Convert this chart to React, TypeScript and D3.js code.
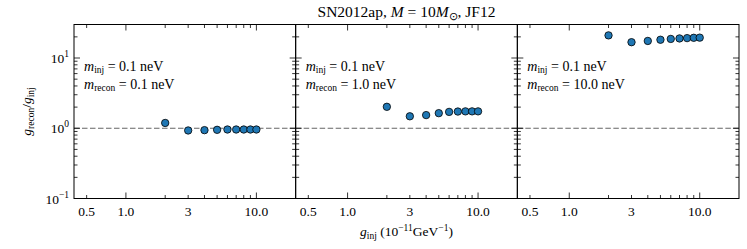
import { useEffect, useRef } from "react"
import * as d3 from "d3"

// injected coupling g_inj (10^-11 GeV^-1)
const gInj = [2, 3, 4, 5, 6, 7, 8, 9, 10]

// reconstructed / injected ratio, one array per panel
const ratioRecon01 = [1.19, 0.93, 0.94, 0.95, 0.96, 0.96, 0.96, 0.96, 0.96]
const ratioRecon10 = [2.02, 1.48, 1.54, 1.64, 1.71, 1.73, 1.74, 1.74, 1.74]
const ratioRecon100 = [21.0, 16.8, 17.5, 18.2, 18.7, 19.0, 19.2, 19.4, 19.5]

const mInj = ["0.1", "0.1", "0.1"]
const mRecon = ["0.1", "1.0", "10.0"]

const xTickValues = [0.5, 1.0, 3, 10.0]
const xTickLabels = ["0.5", "1.0", "3", "10.0"]
const yTickExps = [-1, 0, 1]

export default function App() {
    const ref = useRef<SVGSVGElement>(null)

    useEffect(() => {
        const W = 747
        const H = 249
        const margin = { top: 24.5, left: 74, right: 8, bottom: 50.5 }
        const panels = [ratioRecon01, ratioRecon10, ratioRecon100]
        const panelW = (W - margin.left - margin.right) / panels.length
        const innerH = H - margin.top - margin.bottom
        const font = "Liberation Serif, Times New Roman, serif"

        const svg = d3.select(ref.current)
        svg.selectAll("*").remove()
        svg.attr("width", W).attr("height", H).style("font-family", font)

        const scX = d3.scaleLog().domain([0.4, 20]).range([0, panelW])
        const scY = d3.scaleLog().domain([0.1, 30]).range([innerH, 0])

        const xMinor = [0.5, 2, 3, 4, 5, 6, 7, 8, 9]
        const xMajor = [1, 10]
        const yMinor: number[] = []
        for (const d of [0.1, 1, 10]) for (let k = 2; k <= 9; k++) if (d * k < 30) yMinor.push(d * k)
        const yMajor = yTickExps.map(e => Math.pow(10, e))

        const majLen = 6
        const minLen = 3.5

        panels.forEach((vals, i) => {
            const g = svg.append("g")
                .attr("transform", `translate(${margin.left + i * panelW}, ${margin.top})`)

            // reference line at ratio 1
            g.append("line")
                .attr("x1", 0).attr("x2", panelW)
                .attr("y1", scY(1)).attr("y2", scY(1))
                .attr("stroke", "#666").attr("stroke-width", 1.1)
                .attr("stroke-dasharray", "5.5,2.5")

            // ticks, inward on all four sides
            const ticks = g.append("g").attr("stroke", "black").attr("stroke-width", 0.8)
            const xt = (v: number, len: number) => {
                ticks.append("line").attr("x1", scX(v)).attr("x2", scX(v)).attr("y1", innerH).attr("y2", innerH - len)
                ticks.append("line").attr("x1", scX(v)).attr("x2", scX(v)).attr("y1", 0).attr("y2", len)
            }
            const yt = (v: number, len: number) => {
                ticks.append("line").attr("x1", 0).attr("x2", len).attr("y1", scY(v)).attr("y2", scY(v))
                ticks.append("line").attr("x1", panelW).attr("x2", panelW - len).attr("y1", scY(v)).attr("y2", scY(v))
            }
            xMinor.forEach(v => xt(v, minLen))
            xMajor.forEach(v => xt(v, majLen))
            yMinor.forEach(v => yt(v, minLen))
            yMajor.forEach(v => yt(v, majLen))

            // frame
            g.append("rect")
                .attr("width", panelW).attr("height", innerH)
                .attr("fill", "none").attr("stroke", "black").attr("stroke-width", 1)

            // x tick labels
            g.selectAll(".xl").data(xTickValues).join("text")
                .attr("x", d => scX(d)).attr("y", innerH + 17)
                .attr("text-anchor", "middle").attr("font-size", 13.5)
                .text((d, j) => xTickLabels[j])

            // points
            g.selectAll(".pt").data(vals).join("circle")
                .attr("cx", (d, j) => scX(gInj[j]))
                .attr("cy", d => scY(d))
                .attr("r", 3.7)
                .attr("fill", "#1f77b4")
                .attr("stroke", "black").attr("stroke-width", 0.8)

            // annotation
            const ann = g.append("g").attr("font-size", 14)
            const line = (y: number, sub: string, val: string) => {
                const t = ann.append("text").attr("x", 10).attr("y", y)
                t.append("tspan").attr("font-style", "italic").text("m")
                t.append("tspan").attr("font-size", 9.5).attr("dy", 2.5).text(sub)
                t.append("tspan").attr("dy", -2.5).text(` = ${val} neV`)
            }
            line(46, "inj", mInj[i])
            line(64, "recon", mRecon[i])

            // y tick labels only on first panel
            if (i === 0) {
                yTickExps.forEach(e => {
                    const t = g.append("text")
                        .attr("x", -5).attr("y", scY(Math.pow(10, e)) + 5)
                        .attr("text-anchor", "end").attr("font-size", 13.5)
                    t.append("tspan").text("10")
                    t.append("tspan").attr("font-size", 9.5).attr("dy", -6).text(e < 0 ? `\u2212${-e}` : `${e}`)
                })
            }
        })

        const cx = margin.left + (W - margin.left - margin.right) / 2

        // title
        const title = svg.append("text").attr("x", cx).attr("y", 17)
            .attr("text-anchor", "middle").attr("font-size", 15.5)
        title.append("tspan").text("SN2012ap, ")
        title.append("tspan").attr("font-style", "italic").text("M")
        title.append("tspan").text(" = 10")
        title.append("tspan").attr("font-style", "italic").text("M")
        title.append("tspan").attr("font-size", 10.5).attr("dy", 3).text("\u2299")
        title.append("tspan").attr("dy", -3).text(", JF12")

        // x label
        const xl = svg.append("text").attr("x", cx).attr("y", 236)
            .attr("text-anchor", "middle").attr("font-size", 13.5)
        xl.append("tspan").attr("font-style", "italic").text("g")
        xl.append("tspan").attr("font-size", 9.5).attr("dy", 2.5).text("inj")
        xl.append("tspan").attr("dy", -2.5).text(" (10")
        xl.append("tspan").attr("font-size", 9.5).attr("dy", -5).text("\u221211")
        xl.append("tspan").attr("dy", 5).text("GeV")
        xl.append("tspan").attr("font-size", 9.5).attr("dy", -5).text("\u22121")
        xl.append("tspan").attr("dy", 5).text(")")

        // y label
        const yl = svg.append("text")
            .attr("transform", `translate(31, ${margin.top + innerH / 2}) rotate(-90)`)
            .attr("text-anchor", "middle").attr("font-size", 13.5)
        yl.append("tspan").attr("font-style", "italic").text("g")
        yl.append("tspan").attr("font-size", 9.5).attr("dy", 2.5).text("recon")
        yl.append("tspan").attr("dy", -2.5).text("/")
        yl.append("tspan").attr("font-style", "italic").text("g")
        yl.append("tspan").attr("font-size", 9.5).attr("dy", 2.5).text("inj")
    }, [])

    return (
        <svg ref={ref} style={{ position: "absolute", left: 0, top: 0, background: "white" }}></svg>
    )
}
